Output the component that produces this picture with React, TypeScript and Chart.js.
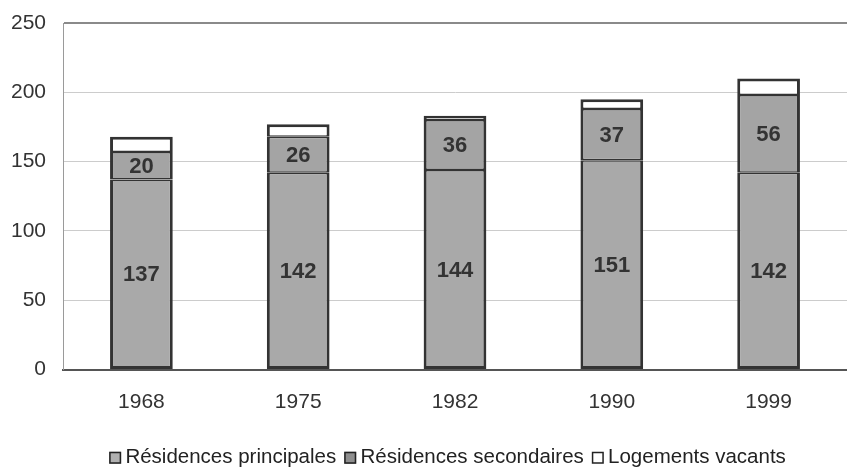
import React, { useEffect, useRef } from "react";
import { Chart, registerables } from "chart.js";

Chart.register(...registerables);

const categories = ["1968", "1975", "1982", "1990", "1999"];
const principales = [137, 142, 144, 151, 142];
const secondaires = [20, 26, 36, 37, 56];
const vacants = [11, 9, 3, 7, 12];
const yTicks = [0, 50, 100, 150, 200, 250];

const FONT = "'Liberation Sans', Arial, sans-serif";
const FILLS = ["#a9a9a9", "#a4a4a4", "#ffffff"];
const LEGEND_FILLS = ["#b0b0b0", "#8e8e8e", "#ffffff"];

const labelPlugin = {
  id: "segLabels",
  afterLayout(chart: any) {
    const lg = chart.legend;
    if (lg) {
      lg.left += 24;
      lg.right += 24;
      lg.top += 19;
      lg.bottom += 19;
    }
  },
  afterDatasetsDraw(chart: any) {
    const ctx = chart.ctx;
    ctx.save();
    ctx.font = `bold 22px ${FONT}`;
    ctx.fillStyle = "#333333";
    ctx.textAlign = "center";
    ctx.textBaseline = "middle";
    [0, 1].forEach((di) => {
      const meta = chart.getDatasetMeta(di);
      const data = chart.data.datasets[di].data as number[];
      meta.data.forEach((el: any, i: number) => {
        const y = (el.y + el.base) / 2;
        ctx.fillText(String(data[i]), el.x, y + 1);
      });
    });
    ctx.restore();
  },
  afterDraw(chart: any) {
    const lg = chart.legend;
    if (!lg || !lg.legendHitBoxes) return;
    const ctx = chart.ctx;
    ctx.save();
    lg.legendHitBoxes.forEach((hb: any, i: number) => {
      const cy = hb.top + hb.height / 2;
      ctx.fillStyle = LEGEND_FILLS[i];
      ctx.fillRect(hb.left, cy - 6, 12, 12);
      ctx.strokeStyle = "#222222";
      ctx.lineWidth = 1.5;
      ctx.strokeRect(hb.left + 0.75, cy - 5.25, 10.5, 10.5);
    });
    ctx.restore();
  },
};

export default function App() {
  const ref = useRef<HTMLCanvasElement>(null);
  useEffect(() => {
    document.body.style.margin = "0";
    const common = { borderColor: "#333333", borderSkipped: false, barPercentage: 0.4, categoryPercentage: 1 };
    const chart = new Chart(ref.current!, {
      type: "bar",
      data: {
        labels: categories,
        datasets: [
          { label: "Résidences principales", data: principales, backgroundColor: FILLS[0], borderWidth: { left: 3, right: 3, top: 1.5, bottom: 3 }, ...common },
          { label: "Résidences secondaires", data: secondaires, backgroundColor: FILLS[1], borderWidth: { left: 3, right: 3, top: 1.5, bottom: 1.5 }, ...common },
          { label: "Logements vacants", data: vacants, backgroundColor: FILLS[2], borderWidth: { left: 3, right: 3, top: 3, bottom: 1.5 }, ...common },
        ],
      },
      options: {
        animation: false,
        responsive: false,
        maintainAspectRatio: false,
        layout: { padding: { top: 23, right: 0, left: 0, bottom: 9 } },
        plugins: {
          tooltip: { enabled: false },
          legend: {
            position: "bottom",
            labels: {
              boxWidth: 6,
              boxHeight: 12,
              padding: 8,
              color: "#222222",
              font: { size: 20.5, family: FONT },
              generateLabels: (ch: any) =>
                ch.data.datasets.map((ds: any, i: number) => ({
                  text: ds.label,
                  fillStyle: "rgba(0,0,0,0)",
                  strokeStyle: "rgba(0,0,0,0)",
                  lineWidth: 0,
                  hidden: false,
                  datasetIndex: i,
                  fontColor: "#222222",
                })),
            },
          },
        },
        scales: {
          x: {
            stacked: true,
            grid: { display: false, drawTicks: false },
            border: { display: true, color: "#555555", width: 2 },
            ticks: { color: "#333333", padding: 20, font: { size: 21, family: FONT } },
            afterFit: (s: any) => { s.height = 51; },
          },
          y: {
            stacked: true,
            min: 0,
            max: 250,
            afterBuildTicks: (s: any) => { s.ticks = yTicks.map((v) => ({ value: v })); },
            grid: {
              drawTicks: false,
              color: (c: any) => (c.tick && c.tick.value === 250 ? "#8a8a8a" : c.tick && c.tick.value === 0 ? "rgba(0,0,0,0)" : "#cccccc"),
              lineWidth: (c: any) => (c.tick && c.tick.value === 250 ? 2 : 1),
            },
            border: { display: true, color: "#9a9a9a", width: 1 },
            ticks: { color: "#333333", padding: 17, font: { size: 21, family: FONT } },
            afterFit: (s: any) => { s.width = 63; s.paddingTop = 0; s.paddingBottom = 0; },
          },
        },
      },
      plugins: [labelPlugin],
    });
    return () => chart.destroy();
  }, []);
  return (
    <div style={{ width: 847, height: 468 }}>
      <canvas ref={ref} width={847} height={468} style={{ width: 847, height: 468, display: "block" }} />
    </div>
  );
}
